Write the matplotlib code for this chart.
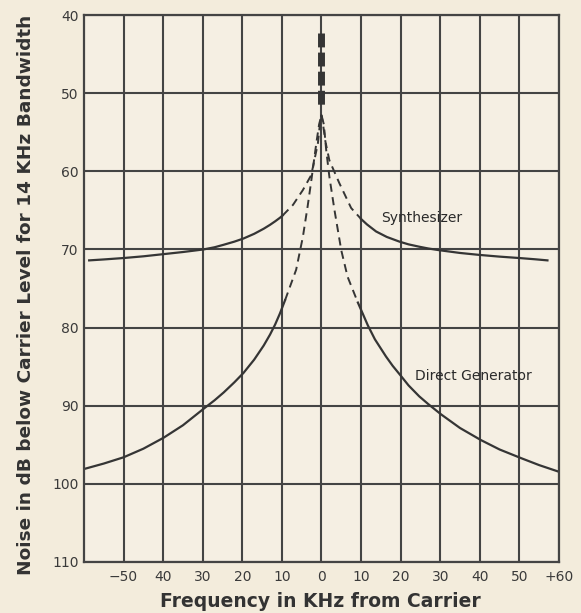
import matplotlib.pyplot as plt

plt.rcParams['font.family'] = ['DejaVu Sans']

# values (x in kHz from carrier, y in dB below carrier)
synth_left_x = [-58.7, -55, -50, -45, -39.9, -35, -29.8, -27, -24.7, -22, -19.7, -17, -14.6, -13, -11.7, -10.5, -9.8]
synth_left_y = [71.4, 71.28, 71.1, 70.88, 70.6, 70.33, 70.0, 69.72, 69.4, 69.0, 68.6, 68.0, 67.35, 66.85, 66.4, 65.95, 65.65]
synth_right_x = [10, 11.5, 13.8, 16.5, 19.7, 22, 24.7, 27, 29.8, 35, 39.9, 45, 50, 54, 57.1]
synth_right_y = [66.1, 66.8, 67.7, 68.4, 69.0, 69.35, 69.65, 69.88, 70.1, 70.45, 70.7, 70.92, 71.1, 71.26, 71.4]
synth_dash_x = [-9.8, -7.2, -4.7, -2.6, -1.8, -0.9, -0.4, 0, 0.4, 1.0, 2.0, 4.5, 7.5, 10]
synth_dash_y = [65.65, 64.3, 62.4, 60.5, 58.6, 56.4, 54.0, 52.8, 54.0, 56.2, 58.6, 61.5, 64.7, 66.1]

direct_left_x = [-60, -55, -50, -45, -39.9, -35, -29.8, -27, -24.7, -22, -19.7, -17, -14.6, -13, -11.7, -10.5, -9.2]
direct_left_y = [98.1, 97.4, 96.6, 95.5, 94.1, 92.5, 90.4, 89.3, 88.3, 87.0, 85.8, 84.1, 82.3, 80.9, 79.6, 78.2, 76.5]
direct_right_x = [9.2, 10.5, 11.7, 13.5, 16.3, 18, 20.1, 22, 24.7, 27, 30.2, 35, 40.3, 45, 50.4, 55, 59.7]
direct_right_y = [76.8, 78.3, 79.7, 81.5, 83.7, 84.9, 86.2, 87.4, 88.8, 89.8, 91.1, 92.85, 94.4, 95.6, 96.7, 97.6, 98.4]
direct_dash_x = [-9.2, -6.4, -4.7, -3.5, -2.6, -1.3, -0.6, 0, 0.6, 1.2, 2.0, 3.3, 5.0, 6.6, 9.2]
direct_dash_y = [76.5, 72.6, 68.4, 64.5, 61.3, 56.4, 54.0, 52.8, 54.0, 57.3, 60.7, 65.0, 70.1, 73.5, 76.8]

peak_x = [0, 0]
peak_y = [42.3, 51.6]

xticks = [-50, -40, -30, -20, -10, 0, 10, 20, 30, 40, 50, 60]
xlabels = ['\u221250', '40', '30', '20', '10', '0', '10', '20', '30', '40', '50', '+60']
yticks = [40, 50, 60, 70, 80, 90, 100, 110]

bg = '#f3ecdc'
ink = '#353535'

fig = plt.figure(figsize=(5.81, 6.13), dpi=100, facecolor=bg)
ax = fig.add_axes([0.1446, 0.0832, 0.8174, 0.8923])
ax.set_facecolor('#f5efe3')

ax.set_xlim(-60, 60)
ax.set_ylim(110, 40)
ax.set_xticks(xticks)
ax.set_xticklabels(xlabels)
ax.set_yticks(yticks)
ax.tick_params(length=0, labelsize=10, labelcolor='#3a3a3a')
ax.tick_params(axis='x', pad=6)
ax.tick_params(axis='y', pad=4)
ax.grid(True, color='#444444', linewidth=1.5)
ax.set_axisbelow(True)
for s in ax.spines.values():
    s.set_color('#444444')
    s.set_linewidth(1.6)

ax.plot(synth_left_x, synth_left_y, color=ink, lw=1.6)
ax.plot(synth_right_x, synth_right_y, color=ink, lw=1.6)
ax.plot(synth_dash_x, synth_dash_y, color=ink, lw=1.4, linestyle=(0, (4.2, 2.8)))
ax.plot(direct_left_x, direct_left_y, color=ink, lw=1.6)
ax.plot(direct_right_x, direct_right_y, color=ink, lw=1.6)
ax.plot(direct_dash_x, direct_dash_y, color=ink, lw=1.4, linestyle=(0, (4.2, 2.8)))
ax.plot(peak_x, peak_y, color=ink, lw=5, linestyle=(0, (2.0, 0.75)), dash_capstyle='butt')

ax.text(15, 66.0, 'Synthesizer', fontsize=10, color='#2a2a2a', va='center', ha='left')
ax.text(23.7, 86.2, 'Direct Generator', fontsize=10, color='#2a2a2a', va='center', ha='left')

fig.text(0.551, 0.018, 'Frequency in KHz from Carrier', fontsize=13.5, fontweight='bold',
         color='#333333', ha='center', va='center')
fig.text(0.044, 0.519, 'Noise in dB below Carrier Level for 14 KHz Bandwidth', fontsize=13.3,
         fontweight='bold', color='#333333', ha='center', va='center', rotation=90)

fig.savefig('out.png', dpi=100, facecolor=bg)
